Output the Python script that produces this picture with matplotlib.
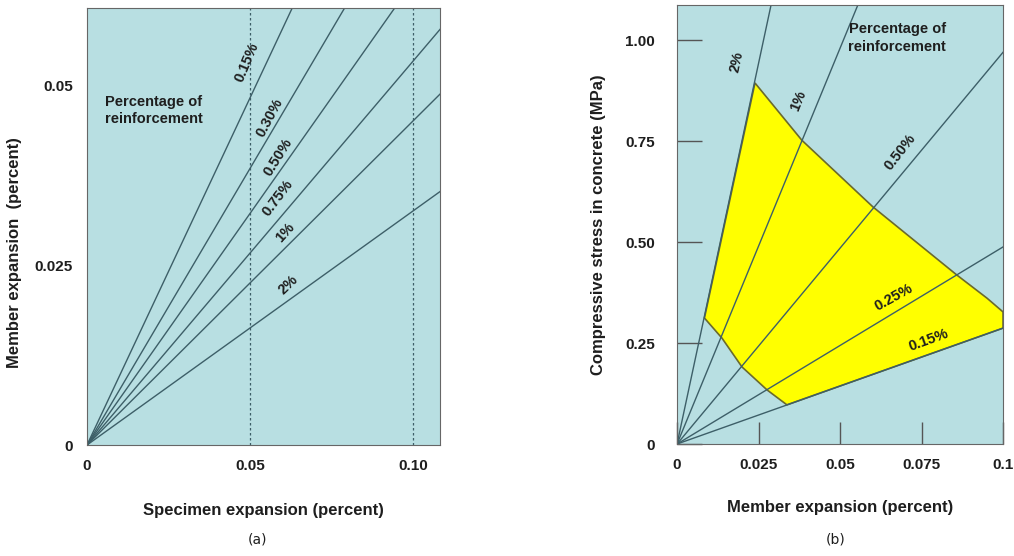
import matplotlib.pyplot as plt
from matplotlib.patches import Polygon

# (a) member vs specimen expansion, slope of each reinforcement line
a_labels = ["0.15%", "0.30%", "0.50%", "0.75%", "1%", "2%"]
a_slopes = [0.964, 0.768, 0.643, 0.533, 0.45, 0.325]
a_text_x = [0.0491, 0.0561, 0.0585, 0.0585, 0.0607, 0.0618]
a_text_y = [0.0531, 0.0455, 0.0400, 0.0343, 0.0295, 0.0222]
a_text_rot = [67, 62, 58, 53, 48, 44]
a_xticks = [0, 0.05, 0.10]
a_xticklabels = ["0", "0.05", "0.10"]
a_yticks = [0, 0.025, 0.05]
a_yticklabels = ["0", "0.025", "0.05"]

# (b) compressive stress vs member expansion
b_labels = ["2%", "1%", "0.50%", "0.25%", "0.15%"]
b_slopes = [37.7, 19.6, 9.7, 4.88, 2.87]
b_text_x = [0.0184, 0.0371, 0.0684, 0.0663, 0.0770]
b_text_y = [0.946, 0.851, 0.723, 0.364, 0.257]
b_text_rot = [78, 68, 52, 29, 20]
# yellow zone outline
zone_x = [0.0239, 0.0383, 0.0601, 0.0859, 0.0951, 0.1, 0.1,
          0.0337, 0.0276, 0.0199, 0.0138, 0.0084]
zone_y = [0.894, 0.752, 0.587, 0.418, 0.361, 0.327, 0.287,
          0.097, 0.134, 0.191, 0.262, 0.312]
b_xticks = [0, 0.025, 0.05, 0.075, 0.1]
b_xticklabels = ["0", "0.025", "0.05", "0.075", "0.1"]
b_yticks = [0, 0.25, 0.50, 0.75, 1.00]
b_yticklabels = ["0", "0.25", "0.50", "0.75", "1.00"]

bg = "#b8dfe2"
lc = "#3d5f68"
tc = "#1e1e1e"
plt.rcParams['font.family'] = ["Liberation Sans", "DejaVu Sans"]
plt.rcParams['font.weight'] = 'bold'
plt.rcParams['text.color'] = tc
plt.rcParams['axes.labelcolor'] = tc
plt.rcParams['xtick.labelcolor'] = tc
plt.rcParams['ytick.labelcolor'] = tc

fig = plt.figure(figsize=(10.14, 5.56), dpi=100)

# ---- panel (a)
ax = fig.add_axes([0.0858, 0.1996, 0.3481, 0.786])
ax.set_facecolor(bg)
ax.set_xlim(0, 0.1083)
ax.set_ylim(0, 0.0607)
for s in a_slopes:
	ax.plot([0, 0.2], [0, 0.2*s], color=lc, lw=1)
for xv in [0.05, 0.10]:
	ax.axvline(xv, color=lc, lw=0.9, ls=(0, (2, 2)))
for i in range(len(a_labels)):
	ax.text(a_text_x[i], a_text_y[i], a_labels[i], rotation=a_text_rot[i],
		ha='center', va='center', fontsize=10.5, fontweight='bold')
ax.text(0.0055, 0.0465, "Percentage of\nreinforcement", ha='left', va='center',
	fontsize=10.5, fontweight='bold', linespacing=1.3)
ax.set_xticks(a_xticks)
ax.set_xticklabels(a_xticklabels)
ax.set_yticks(a_yticks)
ax.set_yticklabels(a_yticklabels)
ax.tick_params(length=0, labelsize=11, pad=10)
ax.set_xlabel("Specimen expansion (percent)", fontsize=12, fontweight='bold', labelpad=22)
ax.set_ylabel("Member expansion  (percent)", fontsize=12, fontweight='bold')
ax.yaxis.set_label_coords(-0.185, 0.44)
for sp in ax.spines.values():
	sp.set_color("#666666")
fig.text(0.254, 0.023, "(a)", ha='center', fontsize=10, fontweight='normal', family="DejaVu Sans")

# ---- panel (b)
bx = fig.add_axes([0.6677, 0.2014, 0.3215, 0.7896])
bx.set_facecolor(bg)
bx.set_xlim(0, 0.1)
bx.set_ylim(0, 1.087)
zone = Polygon(list(zip(zone_x, zone_y)), closed=True, facecolor="#ffff00",
	edgecolor="#6b6a2c", lw=1.2, zorder=1)
bx.add_patch(zone)
for s in b_slopes:
	bx.plot([0, 0.2], [0, 0.2*s], color=lc, lw=1, zorder=2)
for i in range(len(b_labels)):
	bx.text(b_text_x[i], b_text_y[i], b_labels[i], rotation=b_text_rot[i],
		ha='center', va='center', fontsize=10.5, fontweight='bold', zorder=3)
bx.text(0.0675, 1.005, "Percentage of\nreinforcement", ha='center', va='center',
	fontsize=10.5, fontweight='bold', linespacing=1.3)
bx.set_xticks(b_xticks)
bx.set_xticklabels(b_xticklabels)
bx.set_yticks(b_yticks)
bx.set_yticklabels(b_yticklabels)
bx.tick_params(axis='y', direction='in', length=18, width=1, color="#555555", labelsize=11, pad=16)
bx.tick_params(axis='x', direction='in', length=16, width=1, color="#555555", labelsize=11, pad=10)
bx.set_xlabel("Member expansion (percent)", fontsize=12, fontweight='bold', labelpad=20)
bx.set_ylabel("Compressive stress in concrete (MPa)", fontsize=12, fontweight='bold', labelpad=14)
for sp in bx.spines.values():
	sp.set_color("#666666")
fig.text(0.824, 0.023, "(b)", ha='center', fontsize=10, fontweight='normal', family="DejaVu Sans")

fig.savefig("out.png", dpi=100)
